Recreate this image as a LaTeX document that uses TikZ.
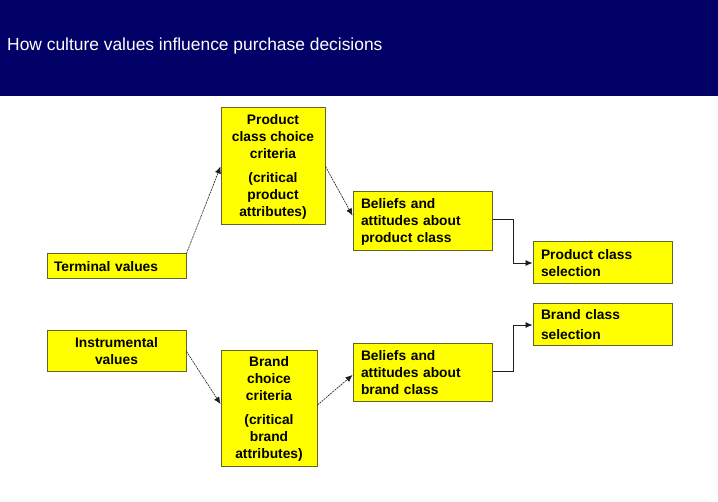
\documentclass[tikz,border=0pt]{standalone}
\usepackage{fontspec}
\setmainfont{Liberation Sans}
\usetikzlibrary{arrows.meta}
\definecolor{hdr}{RGB}{0,0,102}
\definecolor{boxfill}{RGB}{255,255,0}
\definecolor{boxline}{RGB}{100,100,40}
\definecolor{lnk}{RGB}{30,30,30}
\begin{document}
\begin{tikzpicture}[x=1pt,y=-1pt,
  box/.style={draw=boxline,line width=1pt,fill=boxfill,inner sep=0pt,
    font=\fontsize{13.8}{17}\selectfont\bfseries},
  cbox/.style={box,align=center},
  lbox/.style={box,align=left,text width=#1},
  diag/.style={draw=lnk,line width=0.6pt,dash pattern=on 2pt off 0.8pt,
    -{Latex[length=7pt,width=6pt]}},
  elbow/.style={draw=lnk,line width=0.8pt,-{Latex[length=7pt,width=6pt]}}]
\useasboundingbox (0,0) rectangle (718,502);
\fill[white] (0,0) rectangle (718,502);
\fill[hdr] (0,0) rectangle (718,96);
\node[anchor=west,text=white,font=\fontsize{17.4}{20}\selectfont,inner sep=0pt] (title) at (7,46) {How culture values influence purchase decisions};

\node[cbox,minimum width=104pt,minimum height=117pt] (pcc) at (273,166.5)
  {Product\\class choice\\criteria\\[7pt](critical\\product\\attributes)};
\node[lbox=125pt,minimum width=139pt,minimum height=25pt] (tv) at (116.5,266.5) {Terminal values};
\node[lbox=123pt,minimum width=139pt,minimum height=59pt] (bp) at (422.5,221.5)
  {Beliefs and\\attitudes about\\product class};
\node[lbox=123pt,minimum width=139pt,minimum height=42pt] (pcs) at (602.5,263)
  {Product class\\selection};
\node[cbox,minimum width=139pt,minimum height=41pt] (iv) at (116.5,351.5)
  {Instrumental\\values};
\node[cbox,minimum width=96pt,minimum height=116pt] (bcc) at (269,409)
  {Brand\\choice\\criteria\\[7pt](critical\\brand\\attributes)};
\node[lbox=123pt,minimum width=139pt,minimum height=58pt] (bb) at (422.5,373)
  {Beliefs and\\attitudes about\\brand class};
\node[lbox=123pt,minimum width=139pt,minimum height=42pt] (bcs) at (602.5,325)
  {Brand class\\[3pt]selection};

\draw[diag] (tv.north east) -- (pcc.west);
\draw[diag] (pcc.east) -- ([yshift=6pt]bp.west);
\draw[diag] (iv.east) -- ([yshift=5pt]bcc.west);
\draw[diag] ([yshift=4pt]bcc.east) -- ([yshift=-2pt]bb.west);
\draw[elbow] ([yshift=2pt]bp.east) -- ++(21,0) |- (pcs.west);
\draw[elbow] ([yshift=2pt]bb.east) -- ++(21,0) |- (bcs.west);
\end{tikzpicture}
\end{document}
